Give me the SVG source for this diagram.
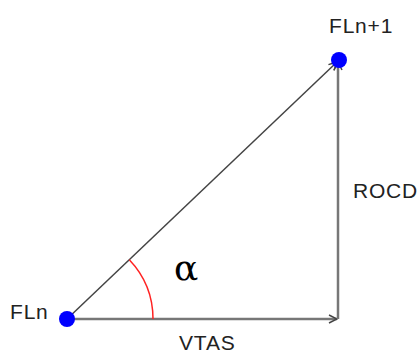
<svg xmlns="http://www.w3.org/2000/svg" width="418" height="353" viewBox="0 0 418 353">
<style>
.lbl{font-family:"Liberation Sans",Arial,sans-serif;font-size:21px;letter-spacing:0.8px;fill:#222}
.edge{stroke:#777;stroke-width:2.5;fill:none}
.diag{stroke:#444;stroke-width:1.5;fill:none}
.pt{fill:#0000ff}
</style>
<defs>
<marker id="arr" viewBox="0 0 10 10" refX="9" refY="5" markerWidth="10" markerHeight="10" markerUnits="userSpaceOnUse" orient="auto">
<path d="M1,1 L9,5 L1,9" fill="none" stroke="#444" stroke-width="1.5"/>
</marker>
</defs>
<rect width="418" height="353" fill="#fff"/>
<g id="connectors">
<line class="edge" x1="67" y1="319" x2="337" y2="319" marker-end="url(#arr)"/>
<line class="edge" x1="338" y1="319" x2="338" y2="62" marker-end="url(#arr)"/>
<line class="diag" x1="67" y1="319" x2="337" y2="62" marker-end="url(#arr)"/>
</g>
<g id="angle">
<path d="M129.3,259.7 A86,86 0 0 1 153,319" fill="none" stroke="#f22" stroke-width="1.5"/>
<text x="174" y="280" font-family="'DejaVu Serif','Liberation Serif',serif" font-size="36" fill="#000">α</text>
</g>
<g id="FLn">
<circle class="pt" cx="67" cy="319" r="8"/>
<text class="lbl" x="10" y="319">FLn</text>
</g>
<g id="FLn1">
<circle class="pt" cx="339" cy="60" r="8"/>
<text class="lbl" x="329" y="33">FLn+1</text>
</g>
<g id="ROCD">
<text class="lbl" x="353" y="198">ROCD</text>
</g>
<g id="VTAS">
<text class="lbl" x="179" y="350">VTAS</text>
</g>
</svg>
